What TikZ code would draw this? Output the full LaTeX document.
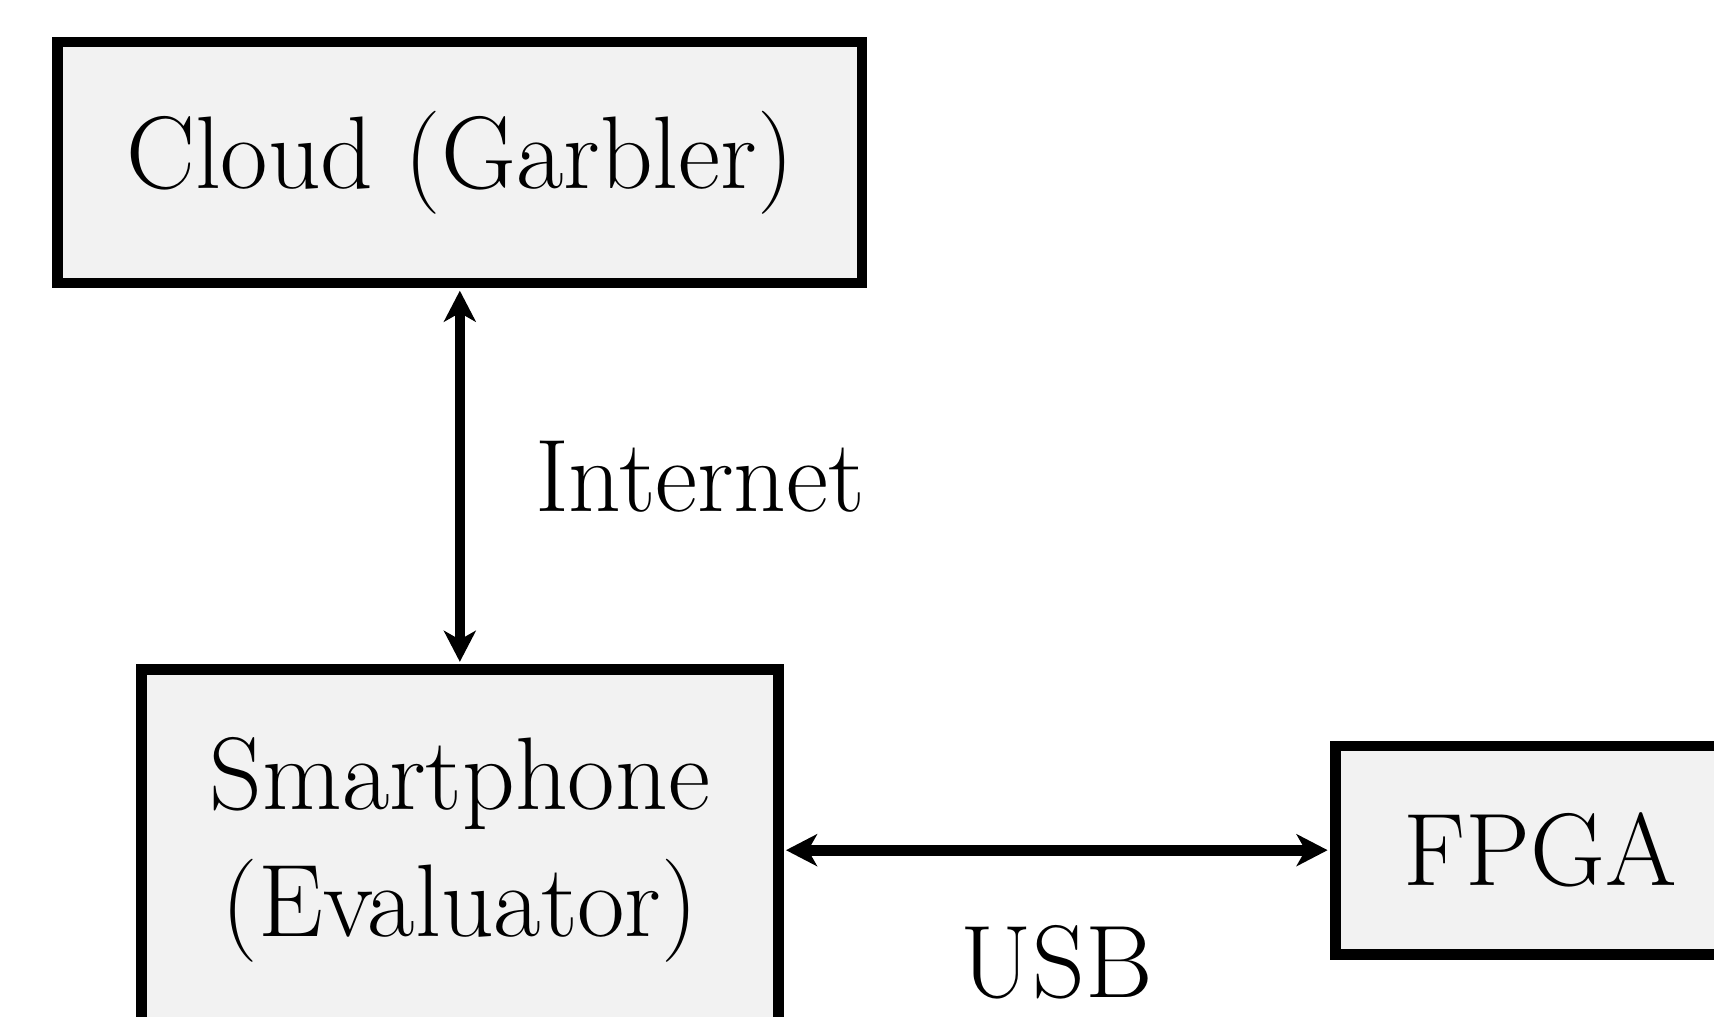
\documentclass[tikz,border=0pt]{standalone}
\usetikzlibrary{arrows.meta,positioning}
\tikzset{
    %Define standard arrow tip
    >={Stealth[length=7.7pt,width=7.9pt,inset=2.2pt]},
    %Define style for boxes
    box/.style={
           rectangle,
           draw=black, line width=2.65pt,
           fill=black!5,
           align=center,
           font=\fontsize{25.6pt}{31.5pt}\selectfont},
    % Define arrow style
    both/.style={
           <->,
           line width=2.65pt,
           shorten <=0.6pt,
           shorten >=0.6pt},
    % Define style for link labels
    link/.style={
           font=\fontsize{25.6pt}{31.5pt}\selectfont}
}

\begin{document}
\begin{tikzpicture}[node distance=1cm, auto]
 %frame
    \useasboundingbox (0,0) rectangle (425.3pt,-252.3pt);
 %nodes
    \node[box, minimum width=199.5pt, minimum height=59.8pt] (cloud) at (114.1pt,-40.3pt) {Cloud (Garbler)};
    \node[box, minimum width=158pt, minimum height=89.6pt, below=93.3pt of cloud] (phone) {Smartphone\\(Evaluator)};
    \node[box, minimum width=101.8pt, minimum height=51.7pt, right=135.6pt of phone] (fpga) {FPGA};
 %edges
    \draw[both] (cloud) to node[link, right=14pt] {Internet} (phone);
    \draw[both] (phone) to node[link, below=14pt] {USB} (fpga);
\end{tikzpicture}
\end{document}
